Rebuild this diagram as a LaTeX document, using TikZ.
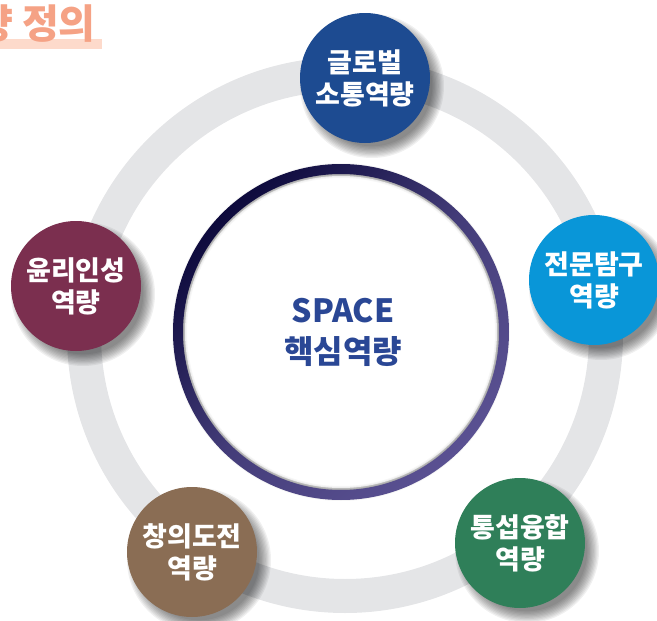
\documentclass[tikz,border=0pt]{standalone}
\usepackage{fontspec}
\newfontfamily\kofont{Noto Sans CJK KR}
\usetikzlibrary{positioning}

\definecolor{ringgray}{HTML}{E4E5E7}
\definecolor{coredark}{HTML}{0D0A3C}
\definecolor{corepurple}{HTML}{5A5192}
\definecolor{coretext}{HTML}{2A4795}
\definecolor{globalblue}{HTML}{1D4B91}
\definecolor{expertblue}{HTML}{0996D8}
\definecolor{fusiongreen}{HTML}{2F7F59}
\definecolor{creativebrown}{HTML}{8A6D54}
\definecolor{ethicred}{HTML}{7B2F4F}
\definecolor{titlesalmon}{HTML}{F5A285}
\definecolor{titlebar}{HTML}{FDDACB}

\begin{document}
\begin{tikzpicture}[x=1pt,y=-1pt,
    comp/.style={circle,fill=#1,minimum size=130pt,inner sep=0pt,
        text=white,align=center,
        font=\kofont\bfseries\fontsize{27}{32}\selectfont}]

\useasboundingbox (0,0) rectangle (657,621);

% Title, cut off at the left edge.
\fill[titlebar] (0,39) rectangle (102,49);
\node[anchor=west,text=titlesalmon,inner sep=0pt,
    font=\kofont\bfseries\fontsize{40}{44}\selectfont]
    (title) at (-24,24) {량 정의};

% Big gray ring behind everything.
\coordinate (mid) at (345,335);
\draw[ringgray,line width=34pt] (mid) circle (261);

% Core ring: soft shadow on the inside first.
\coordinate (core) at (341,332);
\foreach \w in {2,4,...,18}
    \draw[black,opacity=0.035,line width=\w pt] (core) circle (160);
\fill[white] (core) circle (156);
\foreach \w in {2,4,...,12}
    \draw[black,opacity=0.03,line width=\w pt] (core) circle (160);

% Ring with the dark to purple gradient.
\shade[even odd rule,top color=coredark,bottom color=corepurple,
    middle color=corepurple!70!coredark,shading angle=45]
    (core) circle (168) (core) circle (158);

% Core text.
\node[text=coretext,align=center,
    font=\kofont\bfseries\fontsize{32}{41}\selectfont]
    (coretxt) at (343,332) {SPACE\\핵심역량};

% Loop for each competence circle.
\foreach \x/\y/\col/\name/\txt in {
    365/78/globalblue/global/{글로벌\\소통역량},
    594/280/expertblue/expert/{전문탐구\\역량},
    520/543/fusiongreen/fusion/{통섭융합\\역량},
    192/552/creativebrown/creative/{창의도전\\역량},
    76/286/ethicred/ethic/{윤리인성\\역량}} {

    % Soft shadow to the lower right.
    \foreach \k in {0,...,9}
        \fill[black,opacity=0.06] (\x+7,\y+8) circle (72-\k*1.3);

    % Draw the circle with its label.
    \node[comp=\col] (\name) at (\x,\y) {\txt};
}

\end{tikzpicture}
\end{document}
